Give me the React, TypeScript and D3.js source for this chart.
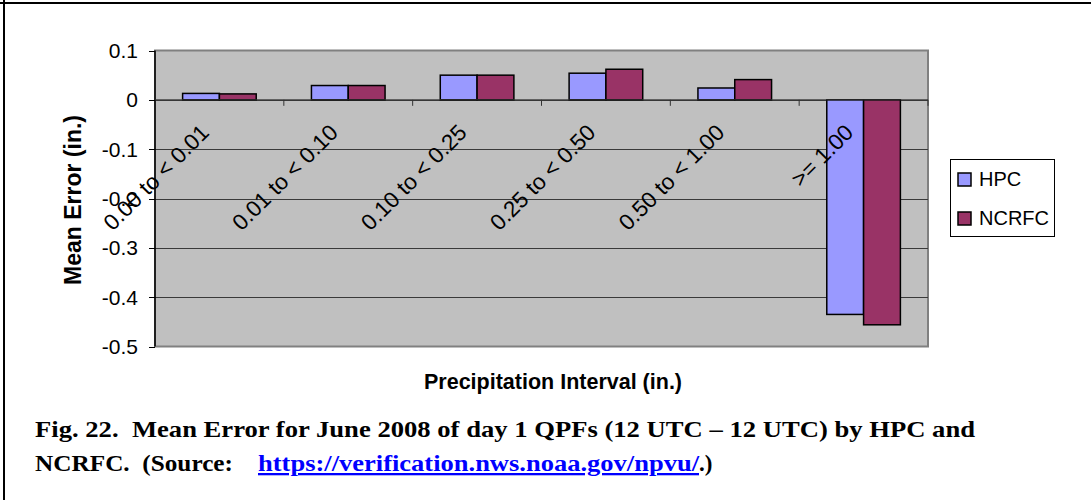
import React from 'react';
import * as d3 from 'd3';

const categories = ['0.00 to < 0.01', '0.01 to < 0.10', '0.10 to < 0.25', '0.25 to < 0.50', '0.50 to < 1.00', '>= 1.00'];
const seriesNames = ['HPC', 'NCRFC'];
const hpcValues = [0.013, 0.029, 0.05, 0.054, 0.024, -0.435];
const ncrfcValues = [0.012, 0.029, 0.05, 0.062, 0.041, -0.456];
const yTicks = [0.1, 0, -0.1, -0.2, -0.3, -0.4, -0.5];
const yTickLabels = ['0.1', '0', '-0.1', '-0.2', '-0.3', '-0.4', '-0.5'];
const colors = ['#9999FF', '#993366'];

const W = 1091;
const H = 500;
const plot = { left: 155, right: 928, top: 50.5, bottom: 346.5 };
const sans = '"Liberation Sans", Arial, sans-serif';

const App: React.FC = () => {
  const ref = React.useRef<SVGSVGElement>(null);

  React.useEffect(() => {
    const svg = d3.select(ref.current);
    svg.selectAll('*').remove();

    const x = d3.scaleBand().domain(categories).range([plot.left, plot.right]);
    const y = d3.scaleLinear().domain([-0.5, 0.1]).range([plot.bottom, plot.top]);
    const bw = x.bandwidth() / 3.5;
    const inner = d3
      .scaleBand()
      .domain(seriesNames)
      .range([(x.bandwidth() - 2 * bw) / 2, (x.bandwidth() + 2 * bw) / 2]);

    // page frame (only top and left show in the crop)
    svg.append('line').attr('x1', 0).attr('x2', W).attr('y1', 3).attr('y2', 3).attr('stroke', '#000').attr('stroke-width', 2);
    svg.append('line').attr('x1', 4).attr('x2', 4).attr('y1', 0).attr('y2', H).attr('stroke', '#000').attr('stroke-width', 2);

    // plot area
    svg
      .append('rect')
      .attr('x', plot.left)
      .attr('y', plot.top)
      .attr('width', plot.right - plot.left)
      .attr('height', plot.bottom - plot.top)
      .attr('fill', '#C0C0C0')
      .attr('stroke', '#808080')
      .attr('stroke-width', 2);

    // gridlines
    svg
      .selectAll('line.grid')
      .data(yTicks.filter((t) => t !== 0.1 && t !== -0.5))
      .enter()
      .append('line')
      .attr('x1', plot.left)
      .attr('x2', plot.right)
      .attr('y1', (d) => Math.round(y(d)) + 0.5)
      .attr('y2', (d) => Math.round(y(d)) + 0.5)
      .attr('stroke', '#3a3a3a')
      .attr('stroke-width', 1);

    // y axis
    svg.append('line').attr('x1', plot.left).attr('x2', plot.left).attr('y1', plot.top).attr('y2', plot.bottom).attr('stroke', '#000').attr('stroke-width', 1.5);
    svg
      .selectAll('line.ytick')
      .data(yTicks)
      .enter()
      .append('line')
      .attr('x1', plot.left - 6)
      .attr('x2', plot.left)
      .attr('y1', (d) => Math.round(y(d)) + 0.5)
      .attr('y2', (d) => Math.round(y(d)) + 0.5)
      .attr('stroke', '#000');
    svg
      .selectAll('text.ytick')
      .data(yTicks)
      .enter()
      .append('text')
      .attr('x', 138)
      .attr('y', (d) => y(d))
      .attr('dy', '0.36em')
      .attr('text-anchor', 'end')
      .attr('font-family', sans)
      .attr('font-size', 21)
      .text((_, i) => yTickLabels[i]);

    // bars
    const rows = seriesNames.flatMap((s, si) =>
      categories.map((c, ci) => ({ s, si, c, v: si === 0 ? hpcValues[ci] : ncrfcValues[ci] }))
    );
    svg
      .selectAll('rect.bar')
      .data(rows)
      .enter()
      .append('rect')
      .attr('x', (d) => x(d.c)! + inner(d.s)!)
      .attr('y', (d) => y(Math.max(0, d.v)))
      .attr('width', bw)
      .attr('height', (d) => Math.abs(y(d.v) - y(0)))
      .attr('fill', (d) => colors[d.si])
      .attr('stroke', '#000')
      .attr('stroke-width', 1.5);

    // x axis at zero
    svg.append('line').attr('x1', plot.left).attr('x2', plot.right).attr('y1', y(0)).attr('y2', y(0)).attr('stroke', '#333').attr('stroke-width', 1);
    svg
      .selectAll('line.xtick')
      .data(categories.slice(1).concat(['end']))
      .enter()
      .append('line')
      .attr('x1', (d) => (d === 'end' ? plot.right : x(d)!))
      .attr('x2', (d) => (d === 'end' ? plot.right : x(d)!))
      .attr('y1', y(0))
      .attr('y2', y(0) + 6)
      .attr('stroke', '#333');

    // category labels (rotated, drawn over the bars)
    svg
      .selectAll('text.cat')
      .data(categories)
      .enter()
      .append('text')
      .attr('transform', (d) => `translate(${x(d)! + x.bandwidth() / 2 - 9},134) rotate(-45)`)
      .attr('text-anchor', 'end')
      .attr('font-family', sans)
      .attr('font-size', 22.5)
      .text((d) => d);

    // axis titles
    svg
      .append('text')
      .attr('transform', 'translate(81,200) rotate(-90)')
      .attr('text-anchor', 'middle')
      .attr('font-family', sans)
      .attr('font-weight', 'bold')
      .attr('font-size', 23)
      .text('Mean Error (in.)');
    svg
      .append('text')
      .attr('x', 553)
      .attr('y', 389)
      .attr('text-anchor', 'middle')
      .attr('font-family', sans)
      .attr('font-weight', 'bold')
      .attr('font-size', 21.5)
      .text('Precipitation Interval (in.)');

    // legend
    const lg = svg.append('g');
    lg.append('rect').attr('x', 950.5).attr('y', 159.5).attr('width', 104).attr('height', 77).attr('fill', '#fff').attr('stroke', '#000');
    const items = lg
      .selectAll('g.item')
      .data(seriesNames)
      .enter()
      .append('g')
      .attr('transform', (_, i) => `translate(0,${i * 39})`);
    items
      .append('rect')
      .attr('x', 958)
      .attr('y', 173)
      .attr('width', 13)
      .attr('height', 13)
      .attr('fill', (_, i) => colors[i])
      .attr('stroke', '#000')
      .attr('stroke-width', 1.5);
    items
      .append('text')
      .attr('x', 979)
      .attr('y', 186)
      .attr('font-family', sans)
      .attr('font-size', 20)
      .text((d) => d);

    // caption
    const cap = svg
      .append('g')
      .attr('font-family', '"Liberation Serif", "Times New Roman", serif')
      .attr('font-weight', 'bold')
      .attr('font-size', 23);
    cap
      .append('text')
      .attr('x', 35)
      .attr('y', 437)
      .attr('textLength', 940)
      .attr('lengthAdjust', 'spacingAndGlyphs')
      .text('Fig. 22.\u00A0 Mean Error for June 2008 of day 1 QPFs (12 UTC \u2013 12 UTC) by HPC and');
    cap
      .append('text')
      .attr('x', 35)
      .attr('y', 471)
      .attr('textLength', 198)
      .attr('lengthAdjust', 'spacingAndGlyphs')
      .text('NCRFC.\u00A0 (Source:');
    cap
      .append('text')
      .attr('x', 258)
      .attr('y', 471)
      .attr('textLength', 441)
      .attr('lengthAdjust', 'spacingAndGlyphs')
      .attr('fill', '#0000FF')
      .attr('text-decoration', 'underline')
      .text('https://verification.nws.noaa.gov/npvu/');
    cap.append('text').attr('x', 699).attr('y', 471).text('.)');
  }, []);

  return (
    <svg
      ref={ref}
      width={W}
      height={H}
      style={{ position: 'absolute', left: 0, top: 0, background: '#fff' }}
    />
  );
};

export default App;
